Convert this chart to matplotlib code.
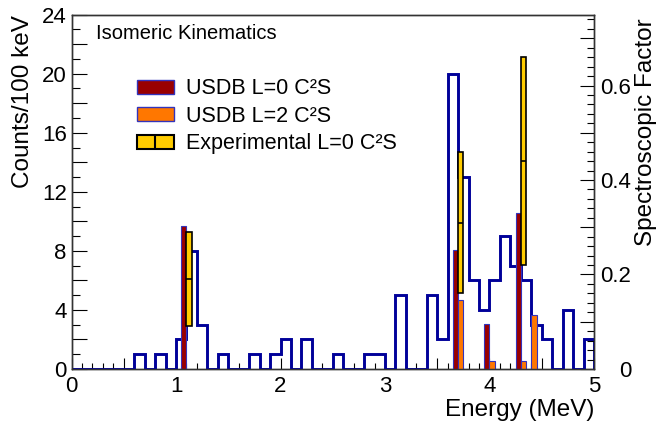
import matplotlib
matplotlib.use("Agg")
import matplotlib.pyplot as plt
import numpy as np
from matplotlib.patches import Patch
from matplotlib.lines import Line2D
from matplotlib.ticker import MultipleLocator, FuncFormatter

plt.rcParams["font.family"] = ["Liberation Sans", "DejaVu Sans"]

# counts per 100 keV bin, 0 - 5 MeV
bin_edges = np.round(np.arange(0, 5.01, 0.1), 2)
counts = [0, 0, 0, 0, 0, 0, 1, 0, 1, 0,
          2, 8, 3, 0, 1, 0, 0, 1, 0, 1,
          2, 0, 2, 0, 0, 1, 0, 0, 1, 1,
          0, 5, 0, 0, 5, 2, 20, 13, 6, 4,
          6, 9, 7, 6, 3, 2, 0, 4, 0, 2]

# USDB spectroscopic factors (left edge of 50 keV bin, MeV)
usdb_l0_e = [1.05, 3.65, 3.95, 4.25]
usdb_l0_sf = [0.303, 0.252, 0.095, 0.33]
usdb_l2_e = [3.70, 4.00, 4.30, 4.40]
usdb_l2_sf = [0.145, 0.016, 0.016, 0.114]

# experimental L=0 spectroscopic factors
exp_e = [1.10, 3.70, 4.30]
exp_sf = [0.19, 0.31, 0.44]
exp_err = [0.10, 0.15, 0.22]

bar_w = 0.05
blue = "#000099"
dark_red = "#990000"
orange = "#ff7700"
yellow = "#ffcc00"
px = 0.72  # pixels -> points at 100 dpi

fig = plt.figure(figsize=(6.58, 4.28), dpi=100)
ax = fig.add_axes([0.1087, 0.1379, 0.7940, 0.8278])

ax.stairs(counts, bin_edges, baseline=0, color=blue, linewidth=2.1, zorder=3)
ax.set_xlim(0, 5)
ax.set_ylim(0, 24)

ax2 = ax.twinx()
ax2.set_ylim(0, 0.75)

ax2.bar(usdb_l0_e, usdb_l0_sf, width=bar_w, align="edge", color=dark_red,
        edgecolor="#3333bb", linewidth=0.8)
ax2.bar(usdb_l2_e, usdb_l2_sf, width=bar_w, align="edge", color=orange,
        edgecolor="#3333bb", linewidth=0.8)
lo = np.array(exp_sf) - np.array(exp_err)
ax2.bar(exp_e, 2 * np.array(exp_err), bottom=lo, width=bar_w, align="edge",
        color=yellow, edgecolor="black", linewidth=1.2)
ax2.hlines(exp_sf, exp_e, np.array(exp_e) + bar_w, color="black", linewidth=1.2)

# ticks, ROOT style
ax.xaxis.set_major_locator(MultipleLocator(0.5))
ax.xaxis.set_minor_locator(MultipleLocator(0.1))
ax.xaxis.set_major_formatter(FuncFormatter(lambda v, p: f"{v:.0f}" if abs(v - round(v)) < 1e-6 else ""))
ax.yaxis.set_major_locator(MultipleLocator(2))
ax.yaxis.set_minor_locator(MultipleLocator(1))
ax.yaxis.set_major_formatter(FuncFormatter(lambda v, p: f"{v:.0f}" if round(v) % 4 == 0 else ""))
ax2.yaxis.set_major_locator(MultipleLocator(0.1))
ax2.yaxis.set_minor_locator(MultipleLocator(0.02))
ax2.yaxis.set_major_formatter(FuncFormatter(
    lambda v, p: ("0" if abs(v) < 1e-6 else f"{v:.1f}") if round(v * 10) % 2 == 0 else ""))

ax.tick_params(axis="x", which="major", direction="in", length=10.7 * px, width=0.8,
               labelsize=16, pad=5, top=False)
ax.tick_params(axis="x", which="minor", direction="in", length=5.7 * px, width=0.8, top=False)
ax.tick_params(axis="y", which="major", direction="in", length=15 * px, width=0.8,
               labelsize=16, pad=3.5, right=False)
ax.tick_params(axis="y", which="minor", direction="in", length=8 * px, width=0.8, right=False)
ax2.tick_params(axis="y", which="major", direction="in", length=14 * px, width=0.8,
                labelsize=16, pad=27)
ax2.tick_params(axis="y", which="minor", direction="in", length=7.5 * px, width=0.8)
for lab in ax2.get_yticklabels():
    lab.set_horizontalalignment("right")

for a in (ax, ax2):
    for s in a.spines.values():
        s.set_linewidth(1.0)
        s.set_color("#333333")

ax.set_xlabel("Energy (MeV)", fontsize=17.5, loc="right")
ax.xaxis.set_label_coords(1.0, -0.085)
ax.set_ylabel("Counts/100 keV", fontsize=17.5, loc="top")
ax.yaxis.set_label_coords(-0.072, 1.0)
ax2.set_ylabel("Spectroscopic Factor", fontsize=17.5, loc="top")
ax2.yaxis.set_label_coords(1.078, 0.99)

ax.text(0.046, 0.948, "Isomeric Kinematics", transform=ax.transAxes,
        fontsize=14.5, va="center", ha="left")

handles = [
    Patch(facecolor=dark_red, edgecolor="#3333bb", linewidth=1.0),
    Patch(facecolor=orange, edgecolor="#3333bb", linewidth=1.0),
    (Patch(facecolor=yellow, edgecolor="black", linewidth=1.5),
     Line2D([], [], marker="|", color="black", markersize=12, markeredgewidth=1.5, linestyle="none")),
]
labels = ["USDB L=0 C²S", "USDB L=2 C²S", "Experimental L=0 C²S"]
ax2.legend(handles, labels, loc="upper left", bbox_to_anchor=(0.125, 0.82),
           frameon=False, fontsize=15.5, borderpad=0, borderaxespad=0,
           handlelength=1.72, handleheight=0.6, handletextpad=0.55, labelspacing=0.3)

fig.savefig("out.png", dpi=100)
